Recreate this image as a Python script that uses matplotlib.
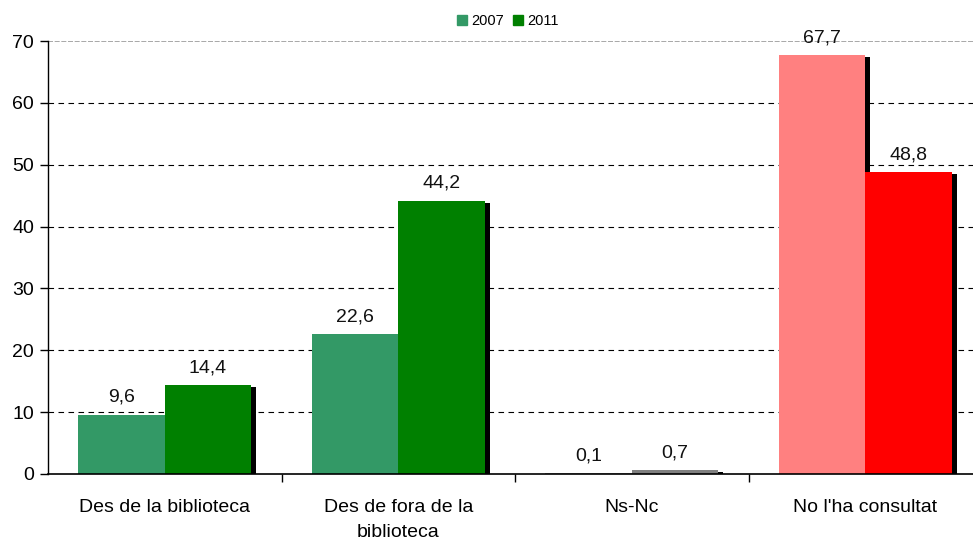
import matplotlib
matplotlib.use("Agg")
import matplotlib.pyplot as plt
import matplotlib.patheffects as pe
import numpy as np

plt.rcParams['font.family'] = ['Liberation Sans', 'DejaVu Sans']

categories = ["Des de la biblioteca", "Des de fora de la\nbiblioteca", "Ns-Nc", "No l'ha consultat"]
values_2007 = [9.6, 22.6, 0.1, 67.7]
values_2011 = [14.4, 44.2, 0.7, 48.8]
labels_2007 = ["9,6", "22,6", "0,1", "67,7"]
labels_2011 = ["14,4", "44,2", "0,7", "48,8"]
colors_2007 = ["#339966", "#339966", "#A0A0A0", "#FF8080"]
colors_2011 = ["#008000", "#008000", "#808080", "#FF0000"]
series_names = ["2007", "2011"]
yticks = [0, 10, 20, 30, 40, 50, 60, 70]

FS = 14

fig = plt.figure(figsize=(9.73, 5.39), dpi=100)
# axes spans four category slots; the last slot runs past the right edge
ax = fig.add_axes([48 / 973, 1 - 474 / 539, 934 / 973, 433 / 539])

x = np.arange(len(categories))
w = 0.37
shadow = [pe.SimplePatchShadow(offset=(3.6, -1.5), shadow_rgbFace='black', alpha=1.0), pe.Normal()]

b1 = ax.bar(x - w / 2, values_2007, width=w, color=colors_2007, zorder=3, label=series_names[0])
b2 = ax.bar(x + w / 2, values_2011, width=w, color=colors_2011, zorder=4, label=series_names[1])
for b in list(b1) + list(b2):
    b.set_path_effects(shadow)

for xi, v, t in zip(x - w / 2, values_2007, labels_2007):
    ax.text(xi, v + 1.4, t, ha='center', va='bottom', fontsize=FS, color='#111111', zorder=6)
for xi, v, t in zip(x + w / 2, values_2011, labels_2011):
    ax.text(xi, v + 1.4, t, ha='center', va='bottom', fontsize=FS, color='#111111', zorder=6)

ax.set_xlim(-0.5, 3.5)
ax.set_ylim(0, 70)
ax.set_yticks(yticks)
ax.set_yticklabels([str(t) for t in yticks], fontsize=FS)
for t in yticks[1:-1]:
    ax.axhline(t, color='black', lw=0.8, ls=(0, (5, 4)), zorder=1)
ax.axhline(70, color='#999999', lw=1.2, ls=(0, (3, 1)), zorder=1)

ax.set_xticks(x + 0.5)
ax.set_xticklabels([])
ax.set_xticks(x, minor=True)
ax.set_xticklabels(categories, minor=True, fontsize=FS, linespacing=1.6)
ax.tick_params(axis='x', which='minor', length=0, pad=18)
ax.tick_params(axis='x', which='major', length=6, width=1, direction='out')
ax.tick_params(axis='y', length=6, width=1, direction='out', pad=4)

for s in ['top', 'right']:
    ax.spines[s].set_visible(False)
ax.spines['left'].set_linewidth(1)
ax.spines['bottom'].set_linewidth(1.2)
ax.spines['left'].set_zorder(5)
ax.spines['bottom'].set_zorder(5)

leg = fig.legend(handles=[b1[0], b2[0]], labels=series_names, loc='center',
                 bbox_to_anchor=(508 / 973, 1 - 21 / 539), ncol=2, frameon=False,
                 fontsize=10.5, handlelength=0.7, handleheight=0.7, handletextpad=0.3,
                 columnspacing=0.6)
for h, c in zip(leg.legend_handles, ["#339966", "#008000"]):
    h.set_color(c)
    h.set_path_effects([])

fig.savefig("out.png", dpi=100)
